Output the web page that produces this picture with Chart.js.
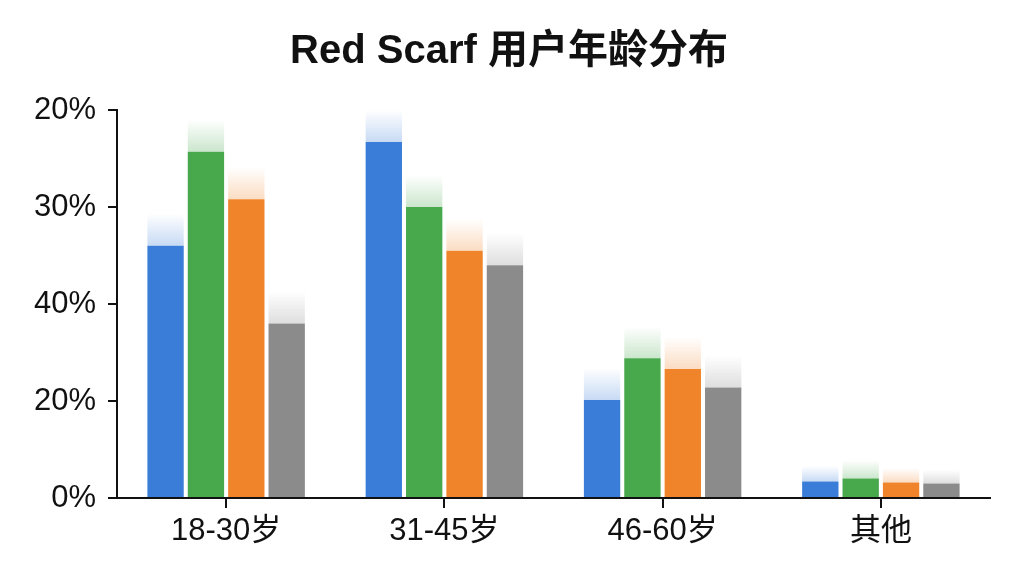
<!DOCTYPE html>
<html>
<head>
<meta charset="utf-8">
<script src="https://cdn.jsdelivr.net/npm/chart.js@4/dist/chart.umd.min.js"></script>
<style>
  html, body { margin: 0; padding: 0; background: #fff; }
  #wrap { width: 1024px; height: 576px; }
</style>
</head>
<body>
<div id="wrap"><canvas id="chart" width="1024" height="576"></canvas></div>
<script>
// categories and series (in axis units: one tick step = 10)
const categories = ["18-30岁", "31-45岁", "46-60岁", "其他"];
const seriesBlue   = [26.0, 36.7, 10.1, 1.7];
const seriesGreen  = [35.7, 30.0, 14.4, 2.0];
const seriesOrange = [30.8, 25.5, 13.3, 1.6];
const seriesGray   = [18.0, 24.0, 11.4, 1.5];
// tick labels as printed on the y axis, bottom to top
const yTickLabels = ["0%", "20%", "40%", "30%", "20%"];

const colors = ["#3a7dd8", "#47a84c", "#f0842a", "#8b8b8b"];
const fontFamily = "'Liberation Sans', Arial, 'Noto Sans CJK SC', sans-serif";

// soft fade drawn above each bar
const glowPlugin = {
  id: "glow",
  beforeDatasetsDraw(chart) {
    const ctx = chart.ctx;
    chart.data.datasets.forEach((ds, i) => {
      const meta = chart.getDatasetMeta(i);
      meta.data.forEach(bar => {
        const h = Math.min(32, bar.base - bar.y);
        const left = bar.x - bar.width / 2;
        const g = ctx.createLinearGradient(0, bar.y, 0, bar.y - h);
        g.addColorStop(0, ds.backgroundColor + "48");
        g.addColorStop(1, ds.backgroundColor + "00");
        ctx.save();
        ctx.fillStyle = g;
        ctx.fillRect(left, bar.y - h, bar.width, h);
        ctx.restore();
      });
    });
  }
};

const makeSet = (label, data, color) => ({
  label, data, backgroundColor: color, borderWidth: 0,
  categoryPercentage: 0.74, barPercentage: 0.9
});

new Chart(document.getElementById("chart"), {
  type: "bar",
  data: {
    labels: categories,
    datasets: [
      makeSet("A", seriesBlue, colors[0]),
      makeSet("B", seriesGreen, colors[1]),
      makeSet("C", seriesOrange, colors[2]),
      makeSet("D", seriesGray, colors[3])
    ]
  },
  options: {
    responsive: false,
    animation: false,
    layout: { padding: { left: 28, right: 34, top: 0, bottom: 8 } },
    plugins: {
      legend: { display: false },
      tooltip: { enabled: false },
      title: {
        display: true,
        text: "Red Scarf 用户年龄分布",
        color: "#111",
        font: { family: fontFamily, size: 40, weight: "bold", lineHeight: 1.2 },
        padding: { top: 28, bottom: 34 }
      }
    },
    scales: {
      x: {
        grid: { display: true, offset: false, drawOnChartArea: false, drawTicks: true, tickLength: 10, color: "#111", lineWidth: 2 },
        border: { color: "#111", width: 2 },
        ticks: { color: "#111", padding: 5, font: { family: fontFamily, size: 31 } },
        afterFit(s) { s.height = 70; }
      },
      y: {
        min: 0, max: 40,
        grid: { display: true, drawOnChartArea: false, drawTicks: true, tickLength: 9, color: "#111", lineWidth: 2 },
        border: { color: "#111", width: 2 },
        ticks: {
          stepSize: 10, color: "#111", padding: 12,
          font: { family: fontFamily, size: 31 },
          callback: (v) => yTickLabels[Math.round(v / 10)]
        },
        afterFit(s) { s.width = 89; }
      }
    }
  },
  plugins: [glowPlugin]
});
</script>
</body>
</html>
